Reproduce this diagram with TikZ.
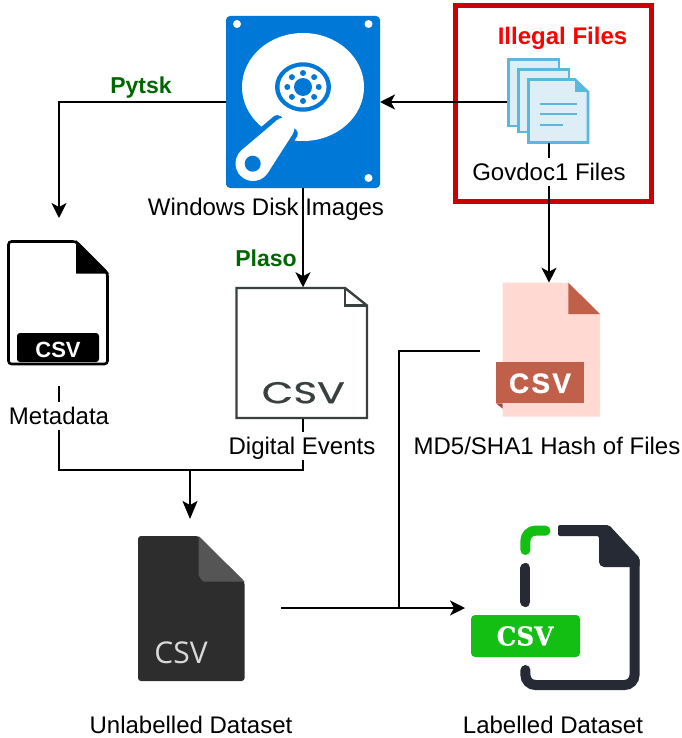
\documentclass[tikz,border=0pt]{standalone}
\usepackage{fontspec}
\usepackage{xcolor}
\setmainfont{Liberation Sans}
\newfontfamily\csvwide{Poppins}
\newfontfamily\csvthin{Open Sans}
\newfontfamily\csvslab{DejaVu Serif}
\usetikzlibrary{positioning,arrows.meta,calc}
\definecolor{hddblue}{HTML}{0078D7}
\definecolor{boxred}{HTML}{CC0000}
\definecolor{toolgreen}{HTML}{006600}
\definecolor{pagefill}{HTML}{DDEEF6}
\definecolor{pageline}{HTML}{5BB8DC}
\definecolor{hashpink}{HTML}{FFD9D2}
\definecolor{hashbrick}{HTML}{C1604A}
\definecolor{inkdark}{HTML}{2D2D2D}
\definecolor{inkfold}{HTML}{555555}
\definecolor{inkslate}{HTML}{3A4040}
\definecolor{inknavy}{HTML}{252A34}
\definecolor{tabgreen}{HTML}{12BF12}
\tikzset{
  iconbox/.style={inner sep=0, outer sep=0, minimum width=#1},
  caption/.style={font=\fontsize{24}{26}\selectfont, inner sep=0, text height=20, text depth=4, minimum height=28},
  toollabel/.style={font=\fontsize{23}{25}\selectfont\bfseries, toolgreen},
  flowline/.style={line width=1.6pt, black},
  flowarrow/.style={flowline, -{Stealth[length=15pt, width=15pt, inset=4pt]}},
  pagesheet/.style={draw=pageline, fill=pagefill, line width=2.6pt},
  pagerule/.style={pageline, line width=2.2pt}
}

\begin{document}
\begin{tikzpicture}[x=1pt, y=-1pt]
\useasboundingbox (0,0) rectangle (681,738);

% === HARD DISK ===
\node[iconbox=154, minimum height=172] (hdd) at (303,102) {};
\fill[hddblue, rounded corners=4] (226,16) rectangle (380,188);
\fill[white] (237,24) circle[radius=4] (368.5,24) circle[radius=4] (368.5,178) circle[radius=4];
\fill[white] (303,87) ellipse[x radius=61, y radius=54];
\fill[hddblue] (303,87) ellipse[x radius=28, y radius=24.7];
\fill[white] (303,87) ellipse[x radius=23.5, y radius=20.5];
\fill[hddblue] (303,87) circle[radius=9];
\foreach \ang in {0,45,...,315}
  \fill[hddblue] ({303+15.7*cos(\ang)},{87+14*sin(\ang)}) circle[radius=3];
% swing arm
\draw[hddblue, fill=hddblue, line width=10pt, line join=round] (267.8,172.9) -- (292.9,133.7) -- (277.2,120) -- (241.7,150.1) -- cycle;
\fill[white] (253,163.5) circle[radius=17.5] (284,128) circle[radius=10.5];
\fill[white] (267.8,172.9) -- (292.9,133.7) -- (277.2,120) -- (241.7,150.1) -- cycle;
\fill[hddblue] (252.7,163.7) circle[radius=8];

% === ILLEGAL FILES BOX ===
\draw[boxred, line width=5pt] (455.5,5.5) rectangle (651.5,201);
\node[font=\fontsize{24}{26}\selectfont\bfseries, red, inner sep=0] (illegal) at (562.5,38) {Illegal Files};
\node[iconbox=84, minimum height=82] (files) at (549,102) {};
\draw[pagesheet] (508.5,59.5) rectangle (559,126);
\draw[pagesheet] (518.5,69.5) rectangle (569,132);
\draw[pagesheet] (528.5,79.5) -- (575,79.5) -- (588,92) -- (588,142.5) -- (528.5,142.5) -- cycle;
\fill[pageline] (575,79.5) -- (588,92) -- (575,92) -- cycle;
\draw[pagerule] (539.5,104.3) -- (576.7,104.3);
\draw[pagerule] (539.5,114.3) -- (576.7,114.3);
\draw[pagerule] (539.5,125) -- (562.7,125);
\node[caption] (govdoc) at (549,172) {Govdoc1 Files};

% === WINDOWS IMAGES CAPTION ===
\node[font=\fontsize{24}{26}\selectfont, inner sep=0] (hddLabel) at (266,209) {Windows Disk Images};
\node[toollabel, inner sep=0] (pytsk) at (141,88) {Pytsk};
\node[toollabel, inner sep=0] (plaso) at (266,258) {Plaso};

% === METADATA CSV ===
\node[iconbox=102, minimum height=125] (meta) at (58,302.5) {};
\draw[black, line width=2.6pt, rounded corners=3] (8.5,241.5) -- (76,241.5) -- (107.5,273) -- (107.5,364) -- (8.5,364) -- cycle;
\fill[black] (76,240) -- (109,273.5) -- (76,273.5) -- cycle;
\fill[black, rounded corners=3] (17,362) -- (17,333) -- (99,333) -- (99,362) -- cycle;
\node[font=\fontsize{22}{24}\selectfont\bfseries, white, inner sep=0] (metaCsv) at (58,350) {CSV};
\node[caption] (metaLabel) at (59,416) {Metadata};

% === DIGITAL EVENTS CSV ===
\node[iconbox=132, minimum height=131.5] (digital) at (303,353) {};
\draw[inkslate, line width=2.4pt] (236.5,288) -- (345,288) -- (367,305.5) -- (367,418) -- (236.5,418) -- cycle;
\draw[inkslate, line width=2.4pt] (345,288) -- (345,305.5) -- (367,305.5);
\node[inkslate, inner sep=0] (digitalCsv) at (303.3,392.7) {\csvwide\addfontfeature{FakeBold=0.6}\fontsize{30}{32}\selectfont\scalebox{1.36}[1]{CSV}};
\node[caption] (digitalLabel) at (302,446) {Digital Events};

% === HASH CSV ===
\node[iconbox=97.5, minimum height=134] (hash) at (551.4,349.7) {};
\fill[hashpink] (502.7,282.7) -- (568.3,282.7) -- (600,314) -- (600,416.7) -- (502.7,416.7) -- cycle;
\fill[hashbrick] (568.3,282.7) -- (600,314) -- (568.3,314) -- cycle;
\fill[hashbrick] (496,361.7) rectangle (584.3,403.3);
\fill[hashbrick!80!black] (496,403.3) -- (502.7,403.3) -- (502.7,408.7) -- cycle;
\node[font=\fontsize{28}{30}\selectfont\bfseries, white, inner sep=0] (hashCsv) at (540,383.3) {\addfontfeature{LetterSpace=8,FakeBold=0.6}CSV};
\node[caption] (hashLabel) at (547,446) {MD5/SHA1 Hash of Files};

% === UNLABELLED CSV ===
\node[iconbox=107, minimum height=145] (unlabelled) at (191,608.5) {};
\fill[inkdark, rounded corners=3] (138,536) -- (198.5,536) -- (244.6,581.7) -- (244.6,681) -- (138,681) -- cycle;
\fill[inkfold] (198.5,536) -- (244.6,581.7) -- (204,581.7) to[out=180, in=90] (198.5,576) -- cycle;
\node[white!85!black, inner sep=0] (unlabelledCsv) at (181,653) {\csvthin\fontsize{30}{32}\selectfont CSV};
\node[caption] (unlabelledLabel) at (191,725) {Unlabelled Dataset};

% === LABELLED CSV ===
\node[iconbox=169, minimum height=165] (labelled) at (555.5,607.5) {};
\draw[tabgreen, line width=10pt, line cap=round, rounded corners=10] (545.5,530.7) -- (525.4,530.7) -- (525.4,550);
\draw[inknavy, line width=10pt, line cap=round] (525.4,568) -- (525.4,602);
\draw[inknavy, line width=10pt, line cap=round, rounded corners=10] (525.4,670) -- (525.4,685) -- (634.5,685) -- (634.5,560);
\fill[inknavy, rounded corners=2] (558,525) -- (609,525) -- (639.6,558) -- (639.6,567) -- (602,567) -- (599,564) -- (599,536) -- (558,536) -- cycle;
\fill[tabgreen, rounded corners=4] (471,615) rectangle (580,657);
\node[font=\fontsize{26}{28}\selectfont\bfseries, white, inner sep=0] (labelledCsv) at (525,636) {\csvslab\addfontfeature{FakeBold=0.5}\scalebox{0.95}[1]{CSV}};
\node[caption] (labelledLabel) at (553,725) {Labelled Dataset};

% === FREE ENDS ===
\coordinate (metaIn) at (59,218);
\coordinate (metaOut) at (59,386);
\coordinate (mergeJoin) at (190,470);
\coordinate (unlabelledIn) at (190,519);
\coordinate (hashOut) at (480,351);
\coordinate (unlabelledOut) at (281,608);
\coordinate (labelledIn) at (465,608);
\coordinate (hashJoin) at (399,608);

% === CONNECTORS ===
\draw[flowarrow] (files.west) -- (hdd.east);
\draw[flowarrow] (hdd.west) -| (metaIn);
\draw[flowarrow] (hdd.south) -- (digital.north);
\draw[flowline] (files.south) -- (govdoc.north -| files.south);
\draw[flowarrow] (govdoc.south -| files.south) -- (hash.north -| files.south);
\draw[flowline] (metaOut) -- (metaLabel.north);
\draw[flowline] (metaLabel.south) |- (mergeJoin);
\draw[flowline] (digital.south) -- (digitalLabel.north -| digital.south);
\draw[flowline] (digitalLabel.south -| digital.south) |- (mergeJoin);
\draw[flowarrow, -{Stealth[length=18pt, width=15pt, inset=4pt]}] (mergeJoin) -- (unlabelledIn);
\draw[flowarrow] (unlabelledOut) -- (labelledIn);
\draw[flowline] (hashOut) -| (hashJoin);

\end{tikzpicture}
\end{document}
